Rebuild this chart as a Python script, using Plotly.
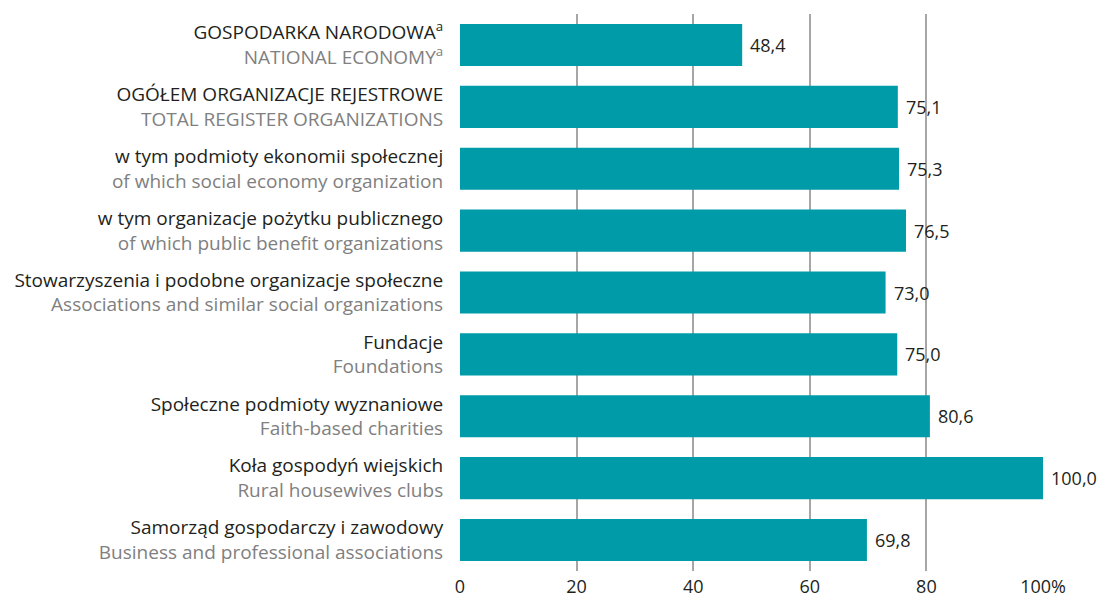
import plotly.graph_objects as go

labels_pl = [
    "GOSPODARKA NARODOWA<sup>a</sup>",
    "OGÓŁEM ORGANIZACJE REJESTROWE",
    "w tym podmioty ekonomii społecznej",
    "w tym organizacje pożytku publicznego",
    "Stowarzyszenia i podobne organizacje społeczne",
    "Fundacje",
    "Społeczne podmioty wyznaniowe",
    "Koła gospodyń wiejskich",
    "Samorząd gospodarczy i zawodowy",
]
labels_en = [
    "NATIONAL ECONOMY<sup>a</sup>",
    "TOTAL REGISTER ORGANIZATIONS",
    "of which social economy organization",
    "of which public benefit organizations",
    "Associations and similar social organizations",
    "Foundations",
    "Faith-based charities",
    "Rural housewives clubs",
    "Business and professional associations",
]
values = [48.4, 75.1, 75.3, 76.5, 73.0, 75.0, 80.6, 100.0, 69.8]
x_ticks = [0, 20, 40, 60, 80, 100]
x_tick_text = ["0", "20", "40", "60", "80", "100%"]

cats = list(range(len(values)))
ticktext = [f"{p}<br><span style='color:#808080'>{e}</span>" for p, e in zip(labels_pl, labels_en)]
value_text = [f"{v:.1f}".replace(".", ",") for v in values]

fig = go.Figure(go.Bar(
    x=values, y=cats, orientation="h",
    marker=dict(color="#009ba8", line=dict(width=0)),
    width=0.68,
    hoverinfo="skip",
))
for v, c, t in zip(values, cats, value_text):
    fig.add_annotation(x=v, y=c, text=t, showarrow=False, xanchor="left",
                       xshift=6, font=dict(size=18, color="#231f20"))
fig.update_layout(
    width=1100, height=601,
    margin=dict(l=460, r=57, t=14, b=30),
    plot_bgcolor="white", paper_bgcolor="white",
    font=dict(family="Open Sans", size=18, color="#231f20"),
    showlegend=False,
)
fig.update_xaxes(
    range=[0, 100], tickvals=x_ticks, ticktext=x_tick_text,
    showgrid=True, gridcolor="#a6a6a6", gridwidth=1.5,
    ticks="", ticklabelstandoff=3,
    zeroline=False, showline=False, automargin=False,
    tickfont=dict(size=18, color="#231f20"),
)
fig.update_yaxes(
    range=[8.5, -0.5], tickvals=cats, ticktext=ticktext,
    showgrid=False, zeroline=False, showline=False, automargin=False,
    ticks="outside", ticklen=12, tickcolor="rgba(0,0,0,0)",
    tickfont=dict(size=19, color="#231f20"),
)
fig.write_html(
    "out.html",
    config={"displayModeBar": False},
    post_script="document.body.style.margin='0';document.body.style.overflow='hidden';",
)
